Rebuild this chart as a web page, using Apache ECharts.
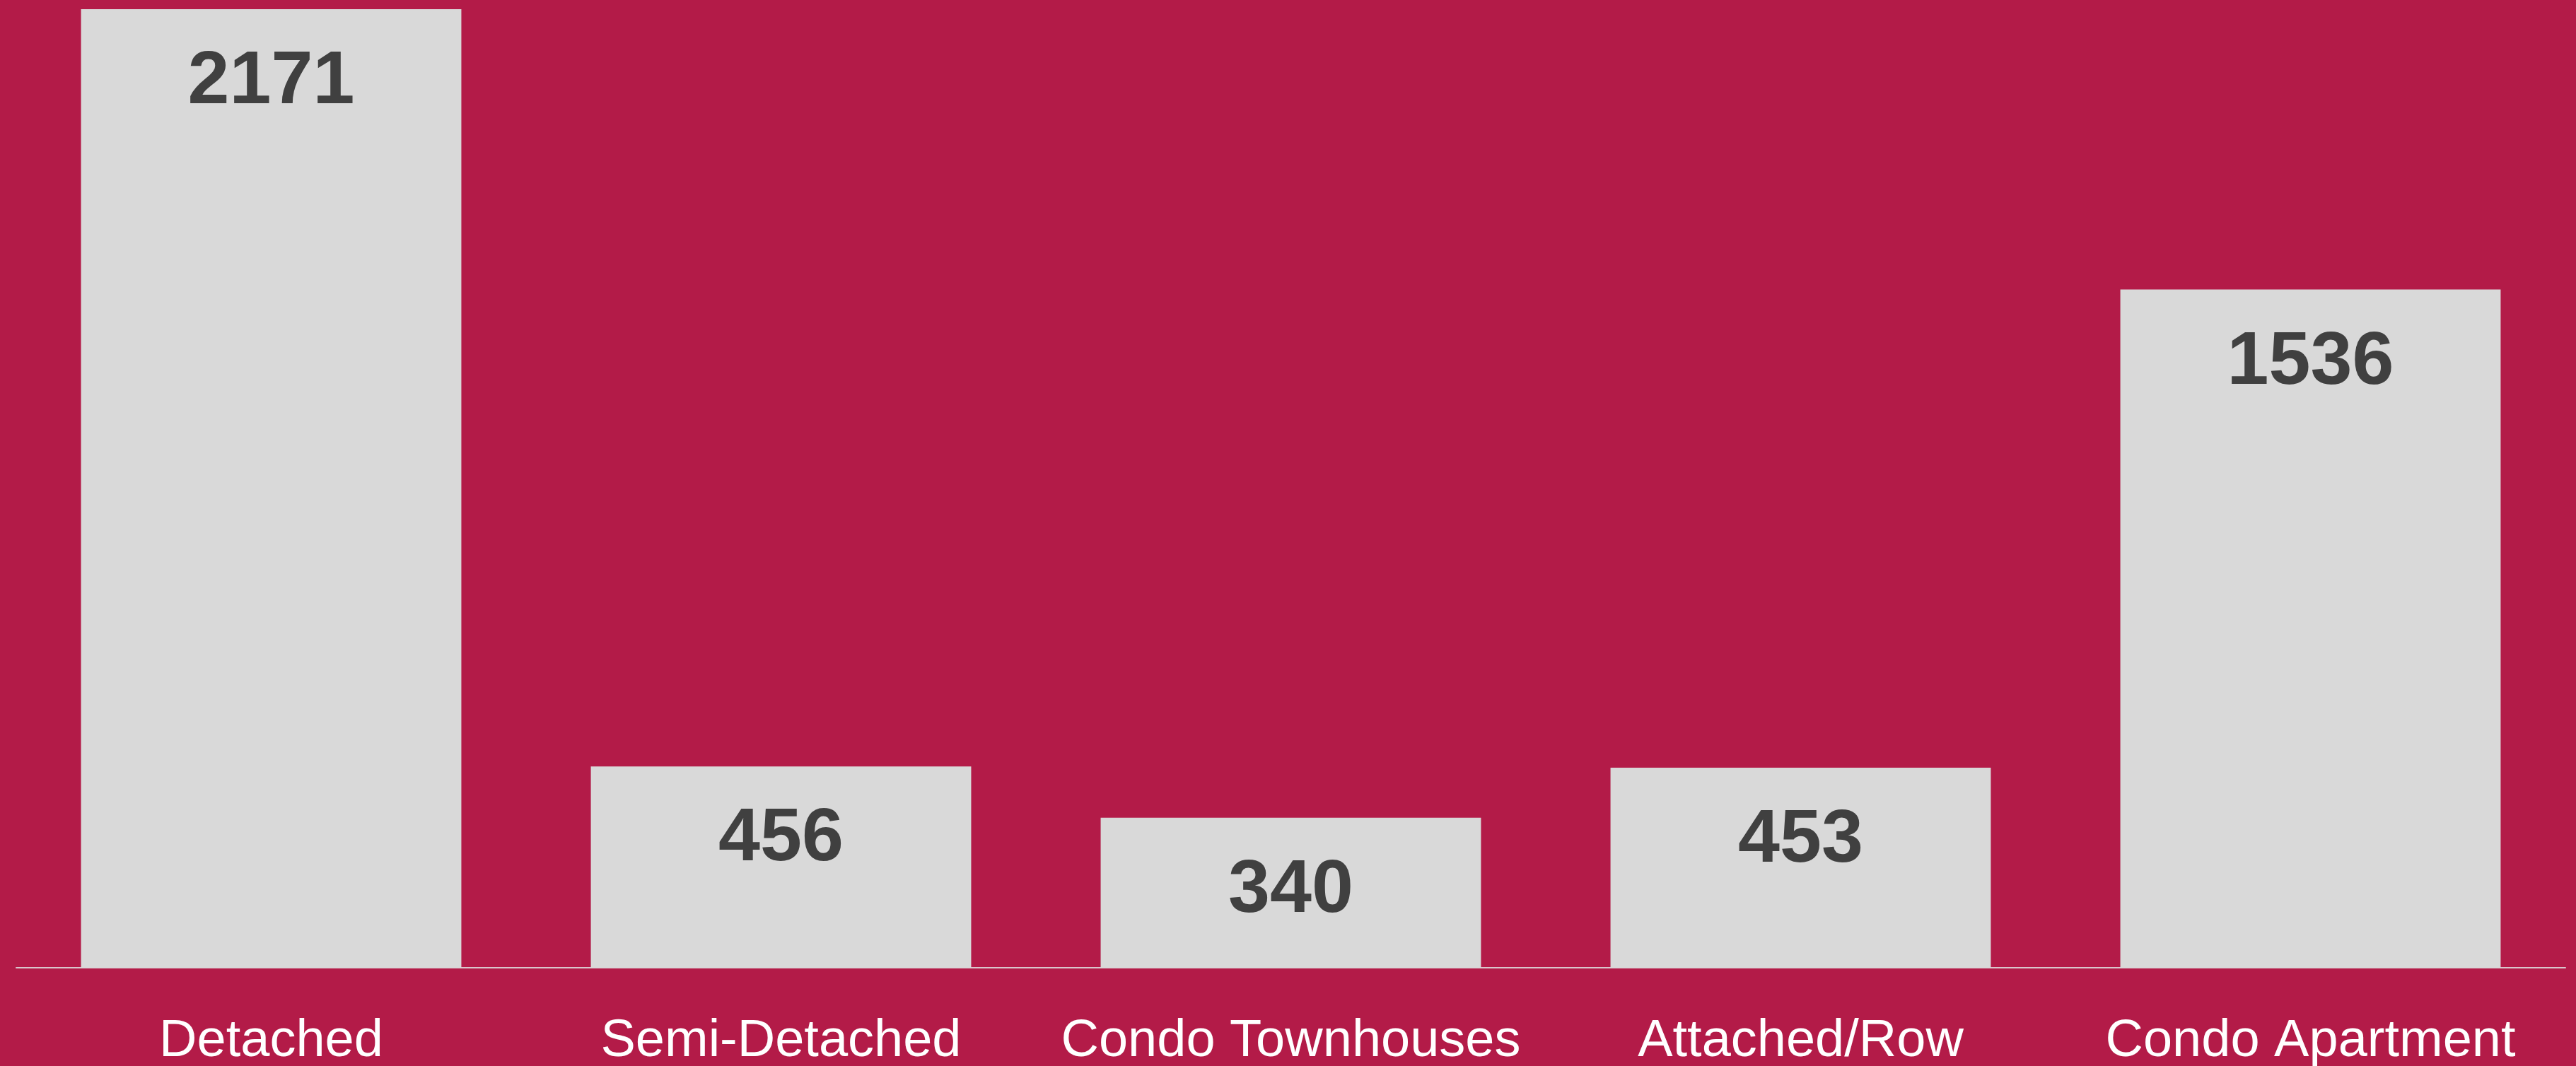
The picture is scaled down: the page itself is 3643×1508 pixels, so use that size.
<!DOCTYPE html>
<html>
<head>
<meta charset="utf-8">
<script src="https://cdn.jsdelivr.net/npm/echarts@6/dist/echarts.min.js"></script>
<style>
  html, body { margin: 0; padding: 0; background: #b31b48; }
  #chart { width: 3643px; height: 1508px; }
</style>
</head>
<body>
<div id="chart"></div>
<script>
// categories and values
const categories = ['Detached', 'Semi-Detached', 'Condo Townhouses', 'Attached/Row', 'Condo Apartment'];
const counts = [2171, 456, 340, 453, 1536];

const myChart = echarts.init(document.getElementById('chart'));

const option = {
  backgroundColor: '#b31b48',
  animation: false,
  grid: {
    left: 23,
    right: 15,
    top: 13,
    bottom: 139,
    outerBoundsMode: 'none', // keep the plot where it is, labels may sit near the edge
  },
  xAxis: {
    type: 'category',
    data: categories,
    axisLine: {
      lineStyle: { color: '#d9c6cc', width: 2 },
    },
    axisTick: { show: false },
    axisLabel: {
      interval: 0,
      color: '#ffffff',
      fontSize: 74,
      fontFamily: 'Liberation Sans, Arial, sans-serif',
      margin: 68,
    },
  },
  yAxis: {
    type: 'value',
    min: 0,
    max: 2171,
    show: false,
    splitLine: { show: false },
  },
  series: [
    {
      type: 'bar',
      data: counts,
      barCategoryGap: '25.4%',
      itemStyle: { color: '#d9d9d9' },
      label: {
        show: true,
        position: 'insideTop',
        distance: 51,
        color: '#404040',
        fontSize: 106,
        fontWeight: 'bold',
        fontFamily: 'Liberation Sans, Arial, sans-serif',
      },
    },
  ],
};

myChart.setOption(option);
</script>
</body>
</html>
